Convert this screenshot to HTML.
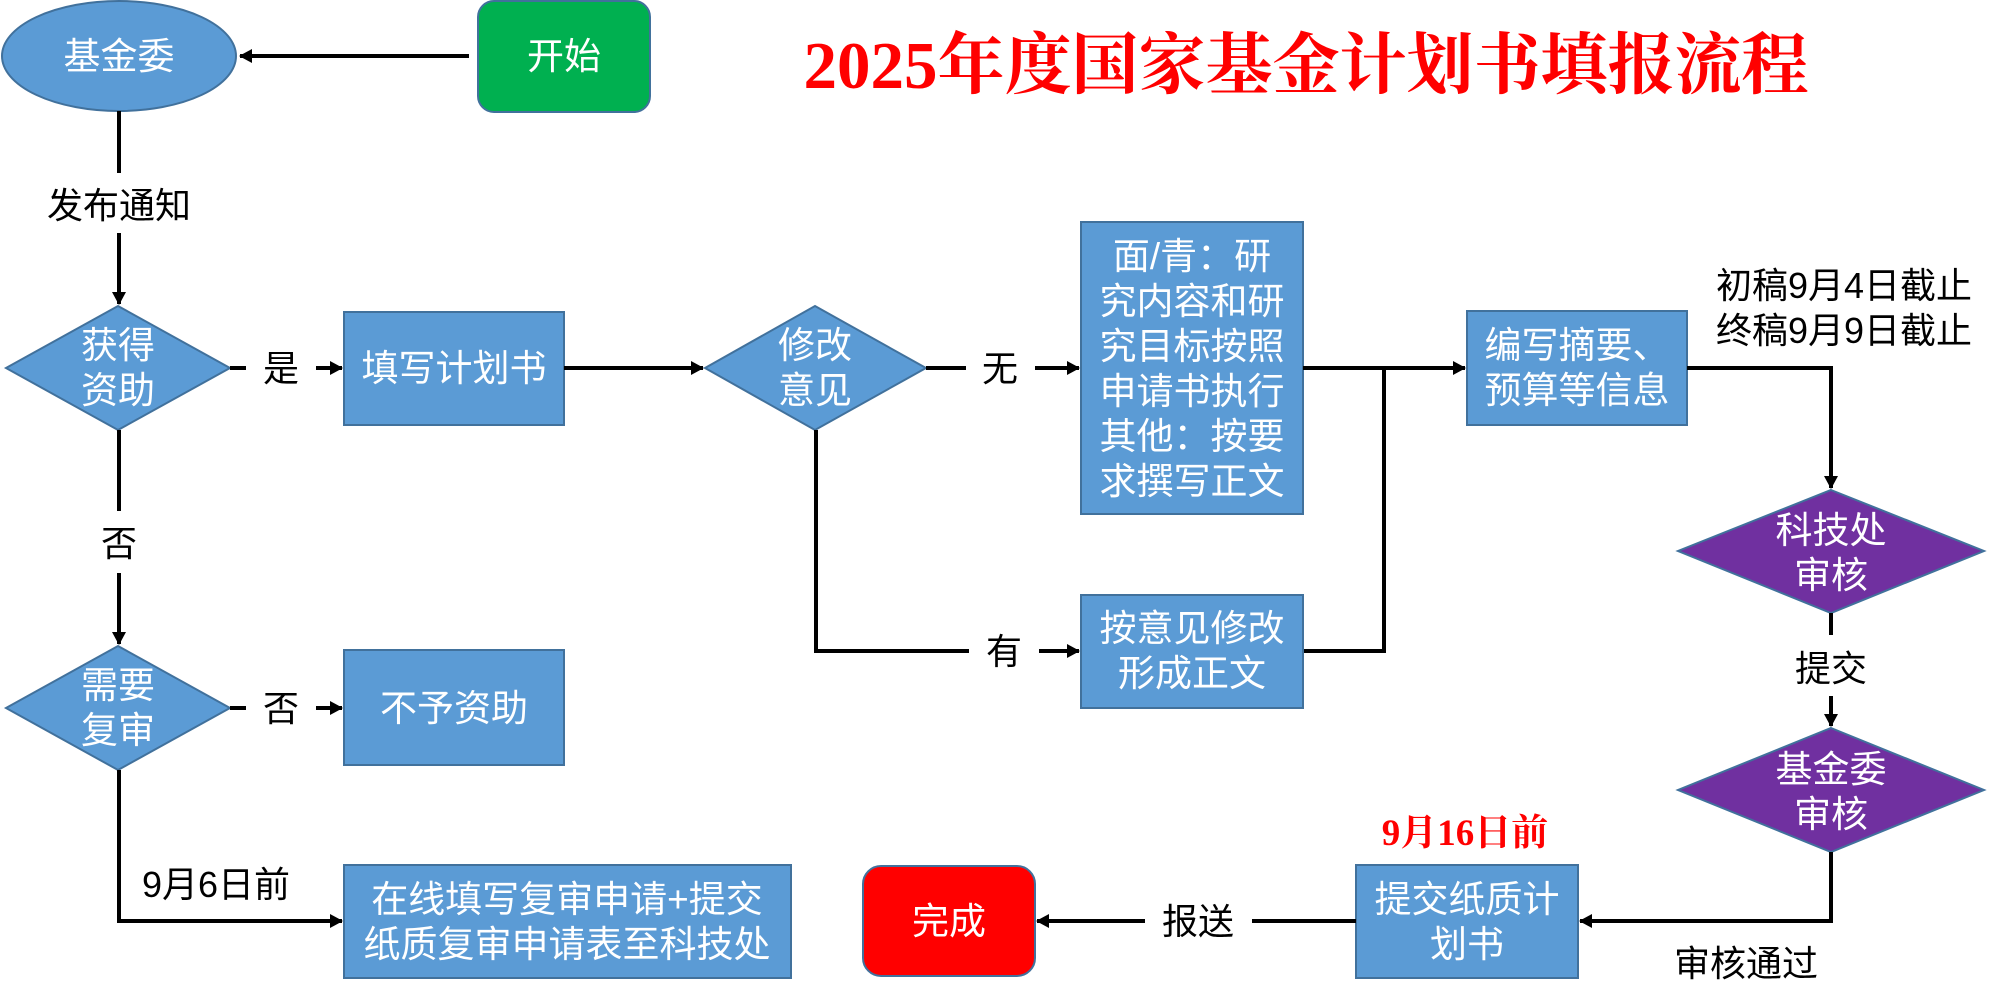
<!DOCTYPE html>
<html><head><meta charset="utf-8"><style>
html,body{margin:0;padding:0;background:#fff;}
svg{display:block;}
text{font-family:"Liberation Sans","Noto Sans CJK SC",sans-serif;}
.w{fill:#fff;font-size:37px;text-anchor:middle;}
.k{fill:#000;font-size:36px;text-anchor:middle;}
.bx{fill:#5b9bd5;stroke:#41719c;stroke-width:2;}
.pu{fill:#7030a0;stroke:#41719c;stroke-width:2;}
.ln{stroke:#000;stroke-width:4;fill:none;}
</style></head><body>
<svg width="1994" height="993" viewBox="0 0 1994 993" xmlns="http://www.w3.org/2000/svg">
<defs><marker id="b" markerWidth="14" markerHeight="14" refX="12" refY="7" orient="auto" markerUnits="userSpaceOnUse"><path d="M0,0 L13,7 L0,14 z" fill="#000"/></marker></defs>

<text x="1306" y="88" font-size="67" font-weight="bold" fill="#ff0000" text-anchor="middle" style="font-family:'Liberation Serif','Noto Serif CJK SC',serif">2025年度国家基金计划书填报流程</text>

<ellipse cx="119" cy="56" rx="117" ry="55" fill="#5b9bd5" stroke="#41719c" stroke-width="2"/>
<text class="w" x="119" y="69">基金委</text>
<rect x="478" y="1" width="172" height="111" rx="16" fill="#00b050" stroke="#41719c" stroke-width="2"/>
<text class="w" x="564" y="69">开始</text>
<line class="ln" x1="469" y1="56" x2="240" y2="56" marker-end="url(#b)"/>

<line class="ln" x1="119" y1="111" x2="119" y2="173"/>
<text class="k" x="119" y="218">发布通知</text>
<line class="ln" x1="119" y1="233" x2="119" y2="304" marker-end="url(#b)"/>

<polygon class="bx" points="118,306 230,368 118,430 6,368"/>
<text class="w" x="118" y="358">获得</text>
<text class="w" x="118" y="403">资助</text>
<line class="ln" x1="230" y1="368" x2="246" y2="368"/>
<text class="k" x="281" y="381">是</text>
<line class="ln" x1="316" y1="368" x2="342" y2="368" marker-end="url(#b)"/>
<rect class="bx" x="344" y="312" width="220" height="113"/>
<text class="w" x="454" y="381">填写计划书</text>
<line class="ln" x1="564" y1="368" x2="703" y2="368" marker-end="url(#b)"/>

<polygon class="bx" points="815,306 926,368 815,430 705,368"/>
<text class="w" x="815" y="358">修改</text>
<text class="w" x="815" y="403">意见</text>
<line class="ln" x1="926" y1="368" x2="966" y2="368"/>
<text class="k" x="1000" y="381">无</text>
<line class="ln" x1="1035" y1="368" x2="1079" y2="368" marker-end="url(#b)"/>

<rect class="bx" x="1081" y="222" width="222" height="292"/>
<text class="w" x="1192" y="269">面/青：研</text>
<text class="w" x="1192" y="314">究内容和研</text>
<text class="w" x="1192" y="359">究目标按照</text>
<text class="w" x="1192" y="404">申请书执行</text>
<text class="w" x="1192" y="449">其他：按要</text>
<text class="w" x="1192" y="494">求撰写正文</text>

<line class="ln" x1="1303" y1="368" x2="1465" y2="368" marker-end="url(#b)"/>
<polyline class="ln" points="1303,651 1384,651 1384,368"/>

<polyline class="ln" points="816,430 816,651 969,651"/>
<text class="k" x="1004" y="664">有</text>
<line class="ln" x1="1039" y1="651" x2="1079" y2="651" marker-end="url(#b)"/>
<rect class="bx" x="1081" y="595" width="222" height="113"/>
<text class="w" x="1192" y="641">按意见修改</text>
<text class="w" x="1192" y="686">形成正文</text>

<rect class="bx" x="1467" y="311" width="220" height="114"/>
<text class="w" x="1577" y="358">编写摘要、</text>
<text class="w" x="1577" y="403">预算等信息</text>
<text class="k" x="1844" y="298">初稿9月4日截止</text>
<text class="k" x="1844" y="343">终稿9月9日截止</text>
<polyline class="ln" points="1687,368 1831,368 1831,488" marker-end="url(#b)"/>

<polygon class="pu" points="1831,490 1984,551 1831,613 1678,551"/>
<text class="w" x="1831" y="543">科技处</text>
<text class="w" x="1831" y="588">审核</text>
<line class="ln" x1="1831" y1="613" x2="1831" y2="635"/>
<text class="k" x="1831" y="681">提交</text>
<line class="ln" x1="1831" y1="696" x2="1831" y2="726" marker-end="url(#b)"/>

<polygon class="pu" points="1831,728 1984,790 1831,852 1678,790"/>
<text class="w" x="1831" y="782">基金委</text>
<text class="w" x="1831" y="827">审核</text>
<polyline class="ln" points="1831,852 1831,921 1580,921" marker-end="url(#b)"/>
<text class="k" x="1746" y="976">审核通过</text>

<text x="1465" y="845" font-size="37" font-weight="bold" fill="#ff0000" text-anchor="middle" style="font-family:'Liberation Serif','Noto Serif CJK SC',serif">9月16日前</text>
<rect class="bx" x="1356" y="865" width="222" height="113"/>
<text class="w" x="1467" y="912">提交纸质计</text>
<text class="w" x="1467" y="957">划书</text>
<line class="ln" x1="1356" y1="921" x2="1252" y2="921"/>
<text class="k" x="1198" y="934">报送</text>
<line class="ln" x1="1145" y1="921" x2="1037" y2="921" marker-end="url(#b)"/>
<rect x="863" y="866" width="172" height="110" rx="18" fill="#ff0000" stroke="#41719c" stroke-width="2"/>
<text class="w" x="949" y="934">完成</text>

<line class="ln" x1="119" y1="430" x2="119" y2="511"/>
<text class="k" x="119" y="556">否</text>
<line class="ln" x1="119" y1="573" x2="119" y2="644" marker-end="url(#b)"/>
<polygon class="bx" points="118,646 230,708 118,770 6,708"/>
<text class="w" x="118" y="698">需要</text>
<text class="w" x="118" y="743">复审</text>
<line class="ln" x1="230" y1="708" x2="246" y2="708"/>
<text class="k" x="281" y="721">否</text>
<line class="ln" x1="316" y1="708" x2="342" y2="708" marker-end="url(#b)"/>
<rect class="bx" x="344" y="650" width="220" height="115"/>
<text class="w" x="454" y="721">不予资助</text>

<polyline class="ln" points="119,770 119,921 342,921" marker-end="url(#b)"/>
<text class="k" x="216" y="897">9月6日前</text>
<rect class="bx" x="344" y="865" width="447" height="113"/>
<text class="w" x="567" y="912">在线填写复审申请+提交</text>
<text class="w" x="567" y="957">纸质复审申请表至科技处</text>
</svg>
</body></html>
